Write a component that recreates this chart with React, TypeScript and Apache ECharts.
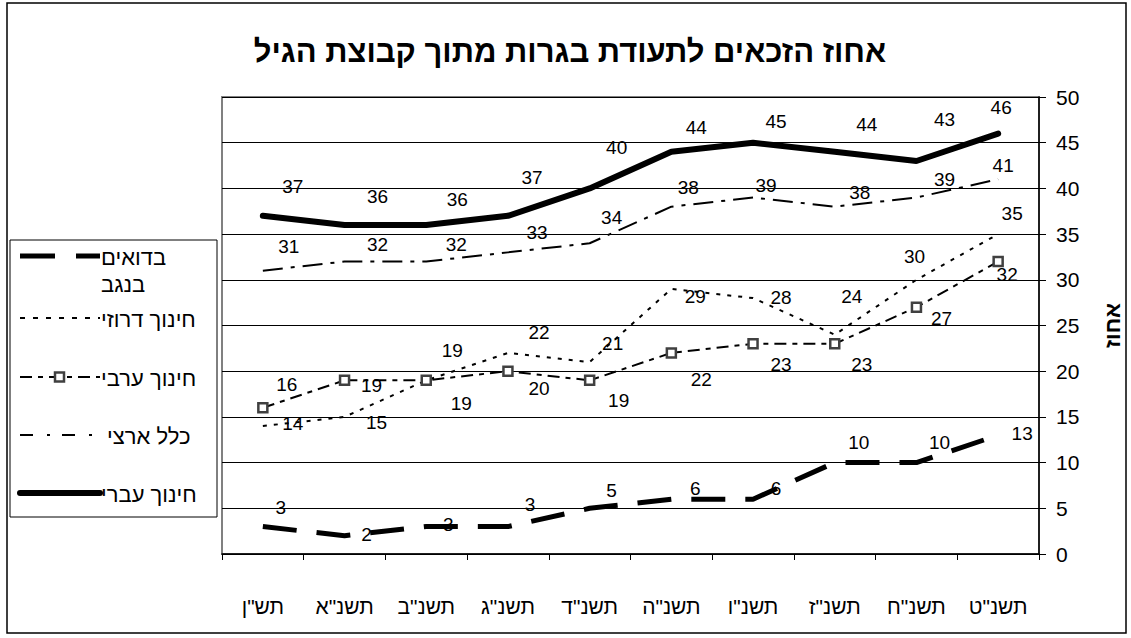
import React, { useEffect, useRef } from "react";
import * as echarts from "echarts";

const categories = ['תש"ן', 'תשנ"א', 'תשנ"ב', 'תשנ"ג', 'תשנ"ד', 'תשנ"ה', 'תשנ"ו', 'תשנ"ז', 'תשנ"ח', 'תשנ"ט'];
const hebrewEdu = [37, 36, 36, 37, 40, 44, 45, 44, 43, 46];
const national = [31, 32, 32, 33, 34, 38, 39, 38, 39, 41];
const arabEdu = [16, 19, 19, 20, 19, 22, 23, 23, 27, 32];
const druzeEdu = [14, 15, 19, 22, 21, 29, 28, 24, 30, 35];
const bedouin = [3, 2, 3, 3, 5, 6, 6, 10, 10, 13];
const seriesNames = ["בדואים בנגב", "חינוך דרוזי", "חינוך ערבי", "כלל ארצי", "חינוך עברי"];
const yTicks = { min: 0, max: 50, interval: 5 };

// label placement (style only): [dx, dy] in pixels from each point
const hebrewLabelOffsets = [[30, -29], [33, -28], [31, -25], [24, -38], [27, -41], [25, -24], [23, -21], [32, -27], [28, -41], [3, -26]];
const nationalLabelOffsets = [[26, -24], [33, -17], [30, -17], [29, -20], [22, -26], [17, -19], [13, -12], [25, -14], [28, -18], [5, -14]];
const druzeLabelOffsets = [[30, -3], [32, 6], [26, -30], [31, -20], [23, -19], [24, 8], [28, -1], [17, -38], [-2, -23], [14, -21]];
const arabLabelOffsets = [[24, -23], [27, 5], [35, 23], [31, 17], [29, 20], [30, 27], [28, 21], [27, 21], [25, 11], [9, 13]];
const bedouinLabelOffsets = [[18, -19], [22, -1], [22, -2], [22, -22], [22, -18], [24, -11], [23, -11], [24, -20], [23, -20], [24, -2]];

const FONT = "'Liberation Sans', Arial, 'DejaVu Sans', sans-serif";

export default function App() {
  const ref = useRef<HTMLDivElement>(null);
  useEffect(() => {
    if (!ref.current) return;
    const chart = echarts.init(ref.current, undefined, { renderer: "svg" });
    const baseLabel = {
      show: true,
      position: "inside",
      align: "center",
      verticalAlign: "middle",
      color: "#000",
      fontSize: 19,
      fontFamily: FONT,
    };
    const withLabels = (values: number[], offs: number[][]) =>
      values.map((v, i) => ({ value: v, label: { offset: offs[i] } }));

    // legend drawn by hand (line samples + names)
    const legendY = [256, 318, 377, 435, 493];
    const dashes: any[] = [[35, 21], [5, 8], [12, 6, 5, 6], [13, 14, 3, 12], null];
    const widths = [5, 2, 2, 2, 6];
    const legendGraphics: any[] = [];
    seriesNames.forEach((name, i) => {
      const y = legendY[i];
      legendGraphics.push({
        type: "line",
        shape: { x1: 20, y1: y, x2: 100, y2: y },
        style: { stroke: "#000", lineWidth: widths[i], lineDash: dashes[i] || undefined, lineCap: i === 4 ? "round" : "butt" },
        silent: true,
      });
      if (i === 2) {
        legendGraphics.push({
          type: "rect",
          shape: { x: 55, y: y - 4.5, width: 9, height: 9 },
          style: { fill: "#fff", stroke: "#404040", lineWidth: 2.5 },
          silent: true,
        });
      }
      const parts = i === 0 ? ["בדואים", "בנגב"] : [name];
      parts.forEach((p, k) => {
        legendGraphics.push({
          type: "text",
          x: i === 3 ? 107 : 101,
          y: y + 1 + k * 27,
          style: { text: p, fill: "#000", fontSize: 22, fontFamily: FONT, textVerticalAlign: "middle", textAlign: "left" },
          silent: true,
        });
      });
    });

    chart.setOption({
      animation: false,
      backgroundColor: "#fff",
      textStyle: { fontFamily: FONT },
      title: {
        text: "אחוז הזכאים לתעודת בגרות מתוך קבוצת הגיל",
        left: 565,
        textAlign: "center",
        top: 31,
        textStyle: { fontSize: 31, fontWeight: "bold", color: "#000", fontFamily: FONT },
      },
      graphic: [
        {
          type: "rect",
          shape: { x: 7, y: 3, width: 1119, height: 630 },
          style: { fill: "none", stroke: "#000", lineWidth: 1.5 },
          silent: true,
        },
        {
          type: "rect",
          shape: { x: 10, y: 240, width: 207, height: 277 },
          style: { fill: "none", stroke: "#000", lineWidth: 1 },
          silent: true,
        },
        ...legendGraphics,
      ],
      grid: { left: 222, right: 88, top: 97, bottom: 84, show: true, borderColor: "#808080", borderWidth: 2 },
      xAxis: {
        type: "category",
        data: categories,
        boundaryGap: true,
        axisLine: { show: true, lineStyle: { color: "#000", width: 1.5 } },
        axisTick: { show: true, length: 6, lineStyle: { color: "#000" } },
        axisLabel: { fontSize: 21, color: "#000", fontFamily: FONT, margin: 42 },
      },
      yAxis: {
        type: "value",
        position: "right",
        min: yTicks.min,
        max: yTicks.max,
        interval: yTicks.interval,
        name: "אחוז",
        nameLocation: "middle",
        nameRotate: 90,
        nameGap: 62,
        nameTextStyle: { fontSize: 22, fontWeight: "bold", color: "#000", fontFamily: FONT },
        axisLine: { show: true, lineStyle: { color: "#000", width: 1.5 } },
        axisTick: { show: true, length: 7, lineStyle: { color: "#000" } },
        axisLabel: { fontSize: 21, color: "#000", fontFamily: FONT, margin: 17 },
        splitLine: { show: true, lineStyle: { color: "#000", width: 1 } },
      },
      series: [
        {
          name: seriesNames[0],
          type: "line",
          data: withLabels(bedouin, bedouinLabelOffsets),
          symbol: "circle",
          symbolSize: 0,
          showAllSymbol: true,
          lineStyle: { color: "#000", width: 5, type: [34, 20] },
          itemStyle: { color: "#000" },
          label: baseLabel,
          z: 3,
        },
        {
          name: seriesNames[1],
          type: "line",
          data: withLabels(druzeEdu, druzeLabelOffsets),
          symbol: "circle",
          symbolSize: 0,
          showAllSymbol: true,
          lineStyle: { color: "#000", width: 2, type: [4, 7] },
          itemStyle: { color: "#000" },
          label: baseLabel,
          z: 3,
        },
        {
          name: seriesNames[2],
          type: "line",
          data: withLabels(arabEdu, arabLabelOffsets),
          symbol: "rect",
          symbolSize: 9,
          showAllSymbol: true,
          lineStyle: { color: "#000", width: 2, type: [12, 6, 5, 6] },
          itemStyle: { color: "#fff", borderColor: "#404040", borderWidth: 2.5 },
          label: baseLabel,
          z: 4,
        },
        {
          name: seriesNames[3],
          type: "line",
          data: withLabels(national, nationalLabelOffsets),
          symbol: "circle",
          symbolSize: 0,
          showAllSymbol: true,
          lineStyle: { color: "#000", width: 2, type: [20, 8, 4, 8] },
          itemStyle: { color: "#000" },
          label: baseLabel,
          z: 3,
        },
        {
          name: seriesNames[4],
          type: "line",
          data: withLabels(hebrewEdu, hebrewLabelOffsets),
          symbol: "circle",
          symbolSize: 0,
          showAllSymbol: true,
          lineStyle: { color: "#000", width: 6, cap: "round" },
          itemStyle: { color: "#000" },
          label: baseLabel,
          z: 5,
        },
      ],
    });
    return () => chart.dispose();
  }, []);
  return <div ref={ref} style={{ position: "fixed", left: 0, top: 0, width: 1131, height: 638 }} />;
}
